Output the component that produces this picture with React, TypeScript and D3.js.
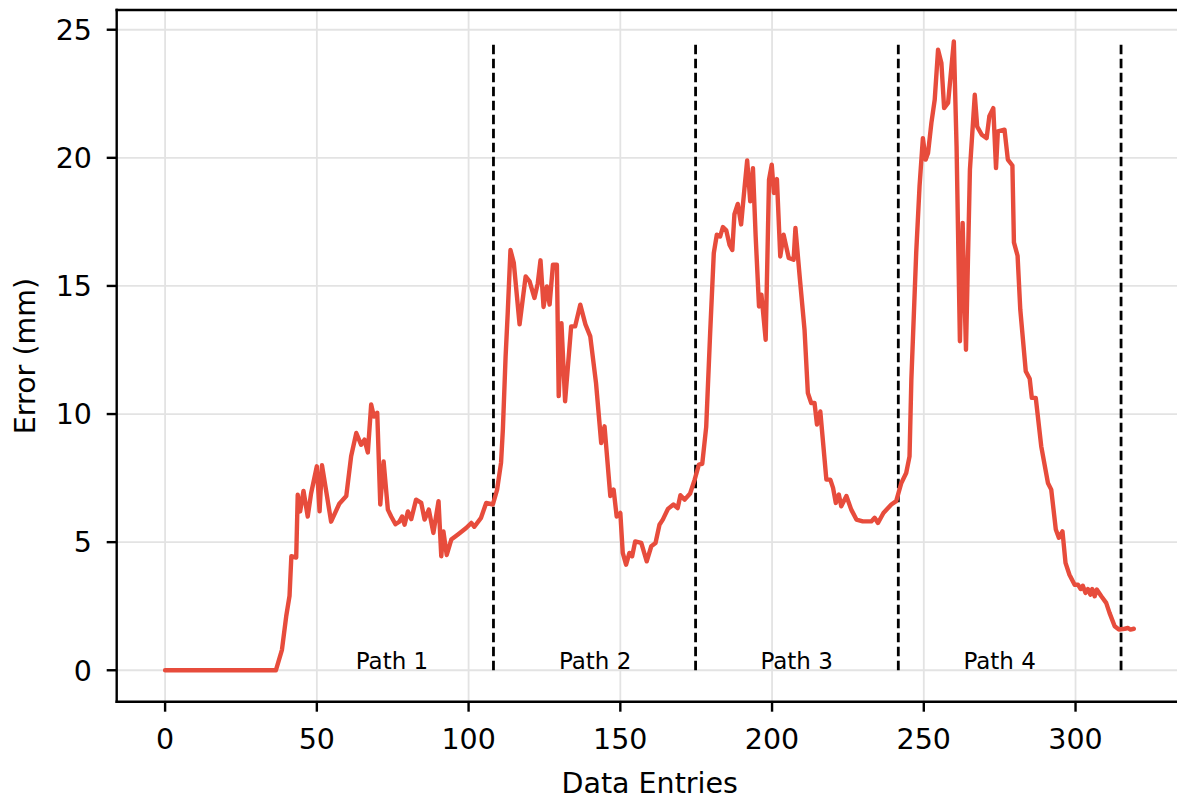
import * as React from 'react';
import * as d3 from 'd3';

// vertices (entry index, error in mm)
const entries = [
    0, 36.5, 38.5, 39.9, 41.0, 41.6, 43.2, 43.7, 44.5, 45.6, 47.0, 48.1, 50.0, 50.9, 51.7, 53.0, 54.7,
    57.4, 59.7, 61.3, 63.0, 64.6, 65.7, 66.8, 67.9, 68.8, 69.9, 70.9, 72.0, 73.4, 74.5, 75.9, 77.2,
    78.1, 78.9, 80.0, 81.1, 82.7, 84.4, 85.5, 86.9, 88.4, 90.1, 91.0, 91.7, 92.8, 94.3, 96.5, 99.2,
    100.9, 101.9, 104.1, 105.8, 108.0, 109.4, 110.7, 111.3, 112.2, 112.9, 113.8, 114.9, 116.8, 118.8,
    120.1, 121.7, 122.8, 123.7, 124.7, 125.8, 126.7, 127.8, 129.1, 129.7, 130.6, 131.8, 133.8, 135.1,
    136.8, 138.5, 140.1, 142.0, 143.7, 144.8, 146.7, 147.8, 148.8, 150.0, 150.8, 151.9, 153.0, 153.9,
    154.9, 156.9, 158.7, 160.2, 161.6, 162.9, 164.0, 165.7, 167.5, 168.9, 169.8, 171.2, 173.0, 174.5,
    175.9, 177.0, 178.3, 179.6, 180.8, 181.8, 182.9, 183.8, 184.9, 186.0, 186.9, 187.6, 188.7, 189.8,
    190.9, 191.8, 192.8, 193.7, 194.6, 195.7, 196.5, 197.9, 199.0, 199.9, 200.6, 201.6, 202.7, 203.8,
    205.5, 207.1, 207.7, 209.1, 210.7, 211.8, 212.9, 214.0, 214.8, 215.9, 217.9, 219.2, 220.1, 221.0,
    222.0, 222.8, 224.5, 226.1, 227.8, 229.9, 232.7, 233.8, 234.9, 236.7, 239.3, 240.9, 242.6, 244.2,
    245.3, 245.9, 247.5, 248.6, 249.7, 250.6, 251.4, 252.5, 253.6, 254.7, 255.8, 256.7, 258.0, 259.9,
    260.8, 261.9, 262.8, 263.9, 265.2, 266.8, 267.6, 269.1, 270.7, 271.6, 272.9, 273.8, 274.4, 276.6,
    277.7, 279.2, 279.7, 280.9, 281.8, 283.6, 284.9, 285.6, 286.9, 288.7, 290.9, 292.0, 293.5, 294.5,
    295.7, 296.7, 298.0, 299.7, 300.8, 301.7, 302.4, 303.3, 304.1, 304.9, 305.5, 306.3, 307.0, 308.5,
    310.1, 311.2, 312.9, 314.3, 316.2, 317.3, 318.1, 319.2,
];
const errors = [
    0, 0, 0.8, 2.1, 2.9, 4.45, 4.4, 6.85, 6.2, 7.0, 6.0, 6.9, 7.96, 6.2, 8.0, 7.05, 5.8,
    6.5, 6.8, 8.35, 9.26, 8.8, 9.0, 8.5, 10.37, 9.9, 10.05, 6.47, 8.15, 6.27, 6.0, 5.7, 5.8,
    6.0, 5.68, 6.2, 5.9, 6.66, 6.53, 5.88, 6.27, 5.36, 6.6, 4.45, 5.42, 4.5, 5.1, 5.3, 5.55,
    5.75, 5.6, 5.95, 6.53, 6.47, 7.05, 8.1, 9.4, 12.25, 13.95, 16.4, 15.9, 13.5, 15.37,
    15.18, 14.53, 15.1, 16.0, 14.18, 14.98, 14.27, 15.83, 15.83, 10.7, 13.55, 10.5, 13.42, 13.42,
    14.27, 13.5, 13.03, 11.2, 8.87, 9.52, 6.8, 7.05, 6.0, 6.14, 4.58, 4.12, 4.58, 4.45,
    5.03, 4.97, 4.25, 4.84, 4.97, 5.68, 5.88, 6.3, 6.47, 6.33, 6.83, 6.66, 6.9, 7.44,
    8.03, 8.06, 9.5, 13.16, 16.28, 17.0, 16.93, 17.3, 17.17, 16.6, 16.4, 17.8, 18.2, 17.4,
    18.8, 19.9, 18.3, 19.6, 16.93, 14.2, 14.66, 12.9, 19.15, 19.73, 18.63, 19.17, 16.15, 17.0,
    16.09, 16.02, 17.26, 15.37, 13.29, 10.82, 10.43, 10.43, 9.59, 10.1, 7.44, 7.44, 7.12, 6.53,
    6.86, 6.4, 6.8, 6.27, 5.88, 5.81, 5.81, 5.95, 5.75, 6.14, 6.47, 6.6, 7.31, 7.7,
    8.35, 11.34, 16.3, 18.9, 20.77, 19.93, 20.19, 21.36, 22.27, 24.22, 23.7, 21.94, 22.14, 24.54,
    20.44, 12.84, 17.46, 12.51, 19.54, 22.46, 21.22, 20.9, 20.77, 21.62, 21.94, 19.6, 21.03, 21.1,
    19.93, 19.7, 16.7, 16.18, 14.07, 11.67, 11.38, 10.63, 10.63, 8.74, 7.31, 7.05, 5.49, 5.17,
    5.42, 4.19, 3.73, 3.34, 3.34, 3.17, 3.3, 3.02, 3.17, 2.95, 3.17, 2.89, 3.15, 2.89,
    2.63, 2.24, 1.72, 1.59, 1.62, 1.65, 1.59, 1.62,
];

const pathBounds = [108.2, 174.8, 241.6, 315];
const boundTop = 24.5;
const pathLabels = ['Path 1', 'Path 2', 'Path 3', 'Path 4'];
const pathLabelX = [74.75, 141.7, 208.1, 275];
const xTicks = [0, 50, 100, 150, 200, 250, 300];
const yTicks = [0, 5, 10, 15, 20, 25];

const W = 1177;
const H = 799;
const font = 'DejaVu Sans';

const App: React.FunctionComponent = () => {
    const x = d3.scaleLinear().domain([-15.95, 334.95]).range([116.7, 1181.6]);
    const y = d3.scaleLinear().domain([-1.227, 25.77]).range([701.7, 10]);
    const pts = entries.map((e, i) => [e, errors[i]] as [number, number]);
    const line = d3.line<[number, number]>().x(d => x(d[0])).y(d => y(d[1]));
    const x0 = x.range()[0];
    const [y0, y1] = y.range();

    return (
        <svg width={W} height={H} style={{ position: 'absolute', left: 0, top: 0, background: '#fff' }}>
            {/* grid */}
            <g stroke="#e3e3e3" strokeWidth={1.8}>
                {xTicks.map(t => <line key={'gx' + t} x1={x(t)} x2={x(t)} y1={y0} y2={y1} />)}
                {yTicks.map(t => <line key={'gy' + t} x1={x0} x2={W} y1={y(t)} y2={y(t)} />)}
            </g>
            {/* path boundaries */}
            <g stroke="#000" strokeWidth={2.8} strokeDasharray="9.5 4.5">
                {pathBounds.map(b => <line key={'b' + b} x1={x(b)} x2={x(b)} y1={y(0)} y2={y(boundTop)} />)}
            </g>
            <path d={line(pts) ?? ''} fill="none" stroke="#e74c3c" strokeWidth={4.4} strokeLinejoin="round" strokeLinecap="round" />
            {pathLabels.map((l, i) => (
                <text key={l} x={x(pathLabelX[i])} y={y(0) - 1} textAnchor="middle" fontFamily={font} fontSize={23} fill="#000">{l}</text>
            ))}
            {/* spines: the right one falls outside the picture */}
            <g stroke="#000" strokeWidth={2.4}>
                <line x1={x0} x2={x0} y1={y0 + 1.2} y2={y1 - 1.2} />
                <line x1={x0 - 1.2} x2={W} y1={y1} y2={y1} />
                <line x1={x0 - 1.2} x2={W} y1={y0} y2={y0} />
            </g>
            {/* x axis */}
            {xTicks.map(t => (
                <g key={'xt' + t}>
                    <line x1={x(t)} x2={x(t)} y1={y0} y2={y0 + 10} stroke="#000" strokeWidth={2.4} />
                    <text x={x(t)} y={749} textAnchor="middle" fontFamily={font} fontSize={28.5} fill="#000">{t}</text>
                </g>
            ))}
            {/* y axis */}
            {yTicks.map(t => (
                <g key={'yt' + t}>
                    <line x1={x0 - 10} x2={x0} y1={y(t)} y2={y(t)} stroke="#000" strokeWidth={2.4} />
                    <text x={92} y={y(t) + 10.3} textAnchor="end" fontFamily={font} fontSize={28.5} fill="#000">{t}</text>
                </g>
            ))}
            <text x={649.7} y={792.5} textAnchor="middle" fontFamily={font} fontSize={28.5} fill="#000">Data Entries</text>
            <text transform="translate(35,356) rotate(-90)" textAnchor="middle" fontFamily={font} fontSize={28.5} fill="#000">Error (mm)</text>
        </svg>
    );
};

export default App;
